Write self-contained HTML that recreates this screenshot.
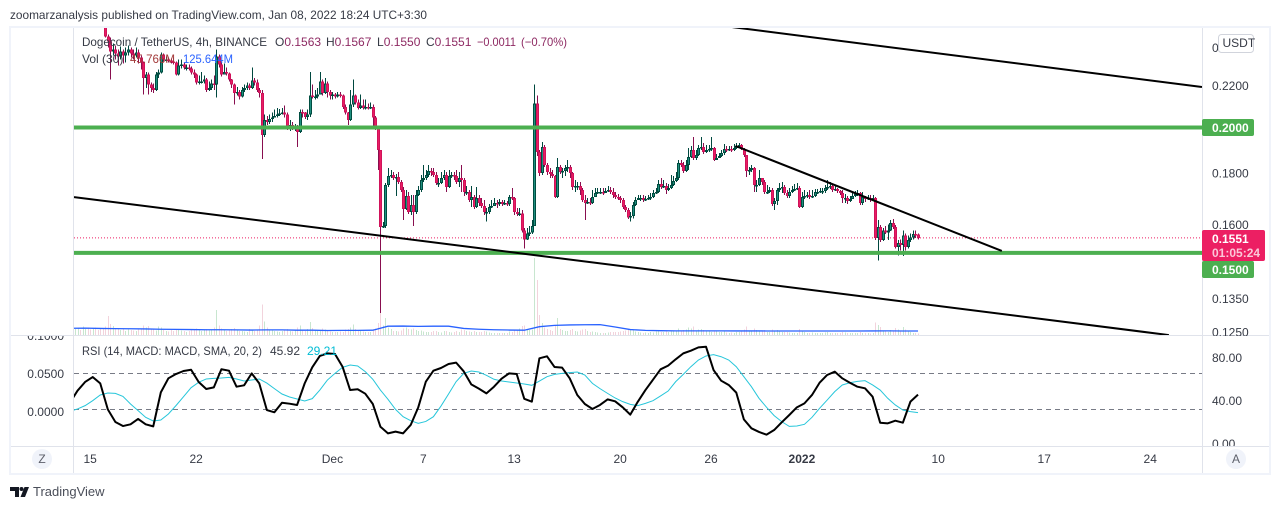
<!DOCTYPE html>
<html lang="en">
<head>
<meta charset="utf-8">
<title>DOGE/USDT chart</title>
<style>
html,body{margin:0;padding:0;background:#fff;width:1280px;height:509px;overflow:hidden}
svg{display:block}
text{font-family:"Liberation Sans",Arial,sans-serif;font-size:12px;fill:#363a45}
</style>
</head>
<body>
<svg id="chart" xmlns="http://www.w3.org/2000/svg" width="1280" height="509" viewBox="0 0 1280 509">
  <defs>
    <clipPath id="main-clip"><rect x="74" y="28" width="1128" height="307"/></clipPath>
    <clipPath id="rsi-clip"><rect x="74" y="336" width="1128" height="110"/></clipPath>
    <clipPath id="right-main-clip"><rect x="1203" y="28" width="66" height="308"/></clipPath>
    <clipPath id="right-rsi-clip"><rect x="1203" y="336" width="66" height="110"/></clipPath>
    <clipPath id="left-clip"><rect x="11" y="336" width="62" height="110"/></clipPath>
  </defs>
  <text x="10" y="19" textLength="417" lengthAdjust="spacingAndGlyphs">zoomarzanalysis published on TradingView.com, Jan 08, 2022 18:24 UTC+3:30</text>
  <rect x="10" y="27" width="1260" height="447" fill="#fff" stroke="#f0f3fa" stroke-width="2"/>
  <line x1="73.5" y1="28" x2="73.5" y2="473" stroke="#e0e3eb"/>
  <line x1="1202.5" y1="28" x2="1202.5" y2="473" stroke="#e0e3eb"/>
  <line x1="11" y1="335.5" x2="1269" y2="335.5" stroke="#e0e3eb"/>
  <line x1="11" y1="446.5" x2="1269" y2="446.5" stroke="#e0e3eb"/>

  <g id="volume-layer" clip-path="url(#main-clip)"></g>
  <g id="vol-ma-layer" clip-path="url(#main-clip)"></g>
  <g id="price-line-layer" clip-path="url(#main-clip)"></g>
  <g id="candle-layer" clip-path="url(#main-clip)"></g>
  <g id="drawing-layer" clip-path="url(#main-clip)"></g>
  <g id="rsi-layer" clip-path="url(#rsi-clip)"></g>
  <g id="right-main-ticks" clip-path="url(#right-main-clip)"></g>
  <g id="right-rsi-ticks" clip-path="url(#right-rsi-clip)"></g>
  <g id="left-ticks" clip-path="url(#left-clip)"></g>
  <g id="time-ticks"></g>

  <g>
    <text x="82" y="46" textLength="185" lengthAdjust="spacingAndGlyphs">Dogecoin / TetherUS, 4h, BINANCE</text>
    <text x="275" y="46">O<tspan style="fill:#8e2a63">0.1563</tspan></text>
    <text x="326" y="46">H<tspan style="fill:#8e2a63">0.1567</tspan></text>
    <text x="377" y="46">L<tspan style="fill:#8e2a63">0.1550</tspan></text>
    <text x="426" y="46">C<tspan style="fill:#8e2a63">0.1551</tspan></text>
    <text x="477" y="46" textLength="39" lengthAdjust="spacingAndGlyphs" style="fill:#8e2a63">−0.0011</text>
    <text x="521" y="46" textLength="46" lengthAdjust="spacingAndGlyphs" style="fill:#8e2a63">(−0.70%)</text>
    <text x="82" y="63">Vol (30)</text>
    <text x="130" y="63" textLength="45" lengthAdjust="spacingAndGlyphs" style="fill:#a33a3a">45.766M</text>
    <text x="183" y="63" textLength="50" lengthAdjust="spacingAndGlyphs" style="fill:#2962ff">125.644M</text>
    <text x="82" y="355" textLength="180" lengthAdjust="spacingAndGlyphs">RSI (14, MACD: MACD, SMA, 20, 2)</text>
    <text x="270" y="355">45.92</text>
    <text x="307" y="355" style="fill:#00bcd4">29.21</text>
  </g>

  <g id="badges">
    <rect x="1202" y="119" width="52" height="17" rx="2" fill="#4caf50"/>
    <text x="1212" y="132" font-weight="bold" style="fill:#fff">0.2000</text>
    <rect x="1202" y="261" width="52" height="17" rx="2" fill="#4caf50"/>
    <text x="1212" y="274" font-weight="bold" style="fill:#fff">0.1500</text>
    <rect x="1202" y="230" width="63" height="31" rx="2" fill="#ec1f63"/>
    <text x="1212" y="243" font-weight="bold" style="fill:#fff">0.1551</text>
    <text x="1212" y="257" font-weight="bold" style="fill:#fbc7d8">01:05:24</text>
    <rect x="1218.5" y="34.5" width="35" height="18" rx="3" fill="#fff" stroke="#d1d4dc"/>
    <text x="1222.5" y="47">USDT</text>
  </g>

  <circle cx="42" cy="459" r="10" fill="#f0f3fa"/>
  <text x="42" y="463" text-anchor="middle" style="fill:#5d606b">Z</text>
  <circle cx="1236" cy="459" r="10" fill="#f0f3fa"/>
  <text x="1236" y="463" text-anchor="middle" style="fill:#5d606b">A</text>

  <g>
    <path d="M10 487h9v10h-4v-6h-5z" fill="#131722"/>
    <circle cx="21.5" cy="489" r="2" fill="#131722"/>
    <path d="M24.5 487H29l-4 10h-4.500z" fill="#131722"/>
    <text x="33" y="496" style="font-size:13px;fill:#4a4e59">TradingView</text>
  </g>
</svg>
<script>
// ---- Data (prices in units of 0.0001) ----
const PRICE_UNIT = 0.0001;
const closes = [
2680,2700,2660,2690,2720,2700,2670,2680,2650,2640,2620,2580,
2462,2433,2378,2389,2367,2351,2378,2356,2373,2389,2367,2356,2373,2345,2318,2239,2255,2204,
2188,2178,2255,2265,2362,2334,2334,2329,2324,2318,2255,2302,2308,2292,2292,2286,2265,2255,2214,2219,
2219,2229,2178,2188,2209,2204,2351,2308,2255,2270,2260,2229,2204,2163,2168,2144,2178,2188,2199,2188,
2224,2214,2178,2163,1964,2033,2023,2038,2043,2052,2057,2062,2067,2057,1995,2009,1995,2000,1977,2071,
2067,2047,2057,2149,2144,2144,2154,2219,2163,2209,2168,2149,2154,2144,2154,2149,2095,2067,2033,2105,
2149,2115,2090,2100,2090,2095,2090,2095,2043,1995,1897,1590,1593,1750,1787,1791,1779,1783,1763,1731,
1657,1707,1645,1672,1645,1711,1731,1771,1779,1791,1808,1804,1791,1758,1758,1779,1791,1742,1787,1791,
1787,1763,1779,1771,1723,1723,1691,1703,1664,1699,1680,1668,1645,1645,1664,1668,1680,1676,1684,1676,
1680,1676,1703,1699,1645,1638,1641,1578,1546,1567,1571,1593,2110,1888,1800,1910,1833,1804,1795,1787,
1703,1825,1804,1808,1820,1825,1800,1742,1746,1746,1731,1691,1680,1684,1680,1703,1719,1723,1723,1719,
1727,1731,1723,1711,1703,1699,1691,1664,1653,1626,1630,1672,1691,1699,1699,1691,1695,1699,1703,1719,
1723,1754,1742,1746,1731,1739,1750,1767,1779,1841,1833,1808,1833,1866,1897,1862,1875,1906,1910,1888,
1897,1901,1906,1854,1862,1871,1884,1901,1897,1901,1897,1906,1915,1919,1901,1875,1808,1812,1820,1750,
1750,1779,1763,1723,1723,1731,1676,1688,1731,1739,1742,1719,1707,1723,1731,1735,1739,1664,1703,1707,
1711,1703,1707,1723,1723,1727,1727,1739,1742,1746,1731,1735,1727,1719,1699,1699,1688,1695,1707,1715,
1719,1680,1703,1695,1699,1695,1699,1550,1590,1543,1578,1571,1578,1604,1590,1518,1532,1525,1560,1518,
1543,1553,1564,1563,1551];
const highs = [
2710,2730,2690,2720,2750,2730,2700,2710,2680,2670,2650,2610,
2560,2473,2456,2422,2411,2389,2405,2389,2400,2411,2400,2389,2400,2389,2356,2324,2270,2265,
2214,2209,2270,2281,2373,2367,2351,2345,2340,2345,2324,2334,2334,2318,2308,2308,2297,2281,2260,2250,
2270,2250,2239,2219,2229,2250,2389,2362,2324,2313,2292,2265,2234,2209,2193,2178,2193,2204,2214,2209,
2292,2239,2229,2188,2178,2057,2052,2057,2067,2081,2090,2085,2090,2100,2067,2033,2023,2014,2009,2081,
2081,2071,2081,2270,2204,2178,2188,2270,2229,2239,2219,2178,2168,2163,2168,2168,2154,2105,2071,2178,
2229,2154,2129,2154,2129,2129,2110,2115,2105,2052,2000,1897,1608,1758,1820,1812,1804,1795,1804,1771,
1742,1731,1723,1711,1711,1731,1746,1791,1833,1812,1833,1820,1820,1804,1779,1804,1812,1804,1812,1804,
1804,1812,1804,1833,1779,1746,1731,1746,1711,1742,1711,1699,1691,1661,1676,1691,1699,1691,1695,1691,
1691,1688,1711,1739,1703,1661,1661,1653,1586,1586,1593,1615,2204,2149,1897,1932,1919,1841,1820,1812,
1791,1862,1833,1820,1833,1854,1833,1804,1771,1763,1763,1739,1711,1699,1699,1731,1739,1739,1739,1739,
1739,1746,1742,1739,1723,1715,1707,1699,1672,1661,1645,1684,1703,1711,1711,1711,1707,1711,1719,1731,
1739,1771,1779,1771,1758,1754,1791,1787,1804,1854,1854,1845,1854,1906,1915,1955,1897,1919,1955,1928,
1919,1919,1955,1910,1879,1884,1897,1923,1915,1915,1915,1923,1928,1928,1923,1906,1875,1825,1833,1825,
1771,1812,1779,1771,1750,1742,1739,1699,1739,1758,1763,1750,1731,1739,1746,1754,1758,1746,1723,1731,
1723,1731,1731,1735,1735,1739,1739,1750,1771,1763,1754,1746,1739,1731,1731,1715,1707,1707,1723,1727,
1731,1723,1723,1707,1711,1711,1711,1703,1615,1597,1586,1593,1600,1615,1619,1597,1543,1546,1578,1567,
1560,1567,1578,1578,1567];
const lows = [
2650,2670,2630,2660,2690,2670,2640,2650,2620,2610,2590,2560,
2456,2400,2229,2356,2334,2302,2334,2313,2318,2356,2345,2334,2345,2313,2281,2154,2188,2154,
2168,2163,2173,2239,2260,2324,2324,2318,2313,2308,2250,2250,2286,2281,2276,2276,2255,2239,2204,2204,
2209,2209,2168,2173,2178,2178,2139,2292,2245,2260,2250,2219,2188,2105,2149,2129,2139,2168,2178,2178,
2183,2199,2168,2139,1858,1955,2009,2014,2023,2043,2043,2052,2057,2043,1986,1982,1986,1982,1910,1973,
2043,2038,2033,2047,2134,2129,2134,2154,2149,2158,2139,2129,2129,2134,2139,2139,2085,2057,2009,2028,
2095,2105,2081,2085,2081,2081,2081,2085,1995,1986,1812,1306,1586,1586,1742,1779,1771,1707,1754,1723,
1615,1653,1638,1634,1593,1638,1707,1723,1763,1771,1783,1787,1783,1750,1742,1754,1771,1723,1739,1779,
1771,1754,1742,1723,1707,1711,1684,1664,1657,1661,1668,1661,1634,1611,1638,1661,1668,1661,1668,1668,
1672,1668,1668,1691,1634,1630,1630,1571,1514,1543,1557,1564,1593,1871,1787,1791,1825,1791,1779,1779,
1699,1699,1795,1779,1787,1804,1779,1731,1723,1731,1711,1684,1615,1676,1672,1676,1703,1715,1715,1711,
1719,1723,1715,1699,1695,1691,1680,1657,1645,1619,1611,1622,1668,1691,1688,1684,1688,1691,1691,1699,
1715,1719,1735,1739,1715,1727,1735,1746,1763,1771,1825,1800,1804,1812,1862,1854,1854,1871,1897,1879,
1884,1888,1893,1849,1854,1862,1866,1875,1888,1893,1888,1893,1901,1906,1897,1866,1783,1791,1804,1723,
1723,1746,1750,1715,1715,1719,1668,1653,1672,1723,1719,1711,1699,1699,1719,1727,1731,1661,1661,1695,
1699,1695,1699,1703,1715,1719,1715,1719,1731,1735,1723,1727,1719,1711,1680,1680,1676,1684,1695,1703,
1707,1672,1672,1684,1691,1684,1688,1543,1473,1536,1539,1564,1543,1575,1582,1514,1490,1507,1487,1507,
1514,1536,1546,1550,1546];
// Volume in millions
const volumes = [
180,210,150,260,190,230,170,200,240,160,180,220,260,600,340,280,210,180,150,190,130,170,160,140,
120,210,180,300,240,280,190,170,140,260,230,160,120,110,150,130,170,190,140,120,100,130,160,180,
200,150,120,170,190,140,160,240,780,300,210,160,130,150,180,220,170,130,120,110,100,180,160,130,
170,300,950,420,240,170,140,120,110,100,130,160,180,130,110,150,240,300,160,130,180,400,220,150,
120,140,210,170,140,110,90,100,90,110,100,170,190,230,330,180,130,120,110,90,100,90,180,210,
380,720,300,530,240,190,130,120,110,140,210,230,190,170,210,160,120,140,110,100,90,100,130,120,
90,80,130,120,90,80,100,120,90,170,150,130,110,90,120,100,90,100,130,110,80,70,60,70,
60,70,60,60,110,100,160,140,200,280,290,170,150,170,2400,1720,620,380,240,180,150,130,300,530,
180,150,130,120,160,190,130,110,140,170,180,120,100,110,90,80,70,70,70,80,90,100,90,90,
110,130,140,170,160,150,110,90,80,70,80,70,90,80,110,120,100,90,110,90,130,120,110,200,
130,150,170,240,200,260,140,170,190,150,130,110,100,140,110,90,100,120,80,70,80,70,90,100,
130,170,260,140,110,200,150,130,110,160,100,90,170,130,150,110,90,100,90,80,70,70,70,180,
130,90,70,70,80,60,60,60,70,80,90,70,60,60,60,70,90,80,70,60,60,60,60,100,
70,60,60,50,60,385,320,250,130,110,100,150,120,220,170,140,250,170,110,90,70,60,46];
// Volume MA in millions; one sample every 6 bars, starting two bars before the first bar
const volumeMa = [210,215,205,200,195,190,180,175,170,165,165,160,155,160,160,150,150,140,145,145,150,275,280,270,275,275,205,180,165,155,150,260,300,315,320,325,250,170,145,135,130,130,128,128,127,127,126,126,126,125,125,126,126,127,128,126,125.644];
// RSI and RSI-MA; one sample every 3 bars, starting two bars before the first bar
const rsiValues = [38.4,49.6,57.7,62.3,56.4,32.2,20.5,16.7,18.3,23.3,18.3,16.4,48,61.1,65.1,67.9,69.1,57.7,51.2,52.7,69.5,68.2,53.3,54.6,65.7,56.4,31.6,29.5,38.4,37.5,36.3,56.4,71.3,81.9,84.3,83.7,71.9,50.2,50.9,46.8,37.2,16.1,9.9,11.5,9.9,17.7,34.1,58,68.2,70.7,74.4,75.7,67.6,55.5,51.5,47.1,53.3,60.8,65.7,65.1,42,39.4,79.7,81.6,71.6,71,61.1,45.6,37.2,32.6,36.3,41.5,39.7,34.1,27.3,39.4,50.2,59.8,69.5,72.9,78.8,84.3,86.8,89.9,90.5,68.8,58.9,54.9,47.8,22.9,14.6,11.2,8.7,13,20.2,27,34.1,37.8,45.6,57,64.2,67.3,61.1,57,53.3,51.8,44,19.8,19.2,21.7,19.8,39.4,45.92];
const rsiMaValues = [30.4,32.6,35.7,40.3,45.6,47.4,47.1,44.3,37.2,31,24.8,21.4,22.3,27.9,35.7,44,52.4,57.4,60.5,61.1,61.4,62,60.5,58.6,59.5,60.5,56.7,51.5,46.5,43.7,41.9,40,42.2,50.2,59.5,65.7,71.3,73.5,72.6,67.3,60.2,50.2,41.6,32.2,25.4,21.7,19.2,21,25.4,35.3,46.5,58,65.7,67.9,67,63.9,60.2,58.6,57.7,56.7,55.8,54.6,58.6,62.6,64.8,65.7,66.4,67,64.2,56.4,51.5,47.1,42.8,39.4,36.9,35.7,37.8,40.3,44.7,49.3,58,64.8,71.9,78.1,81.9,83.1,81.2,78.1,71.9,62.6,53.3,42.5,34.1,26.4,20.8,16.4,16.7,18.3,24.8,33.2,40.9,48.7,54.9,57,58.3,58.9,54.9,50.2,42.5,36.3,31.6,30.1,29.21];
const rsiBands = [66, 32.6];
const lastPrice = 0.1551;
const supportLevels = [0.2, 0.15];
// Trend lines as [barIndex, price, barIndex, price]
const trendUpper = [260.5, 0.2515, 446.5, 0.2192];
const trendLower = [-0.4, 0.1703, 433.4, 0.1241];
const trendWedge = [261.7, 0.1915, 367.2, 0.1505];
const priceTicks = [0.24, 0.22, 0.18, 0.16, 0.135, 0.125];
const rsiTicks = [80, 40, 0];
const macdTicks = [0.1, 0.05, 0];
const timeTickBars = [6, 48, 102, 138, 174, 216, 252, 288, 342, 384, 426];
const timeTickLabels = ['15', '22', 'Dec', '7', '13', '20', '26', '2022', '10', '17', '24'];
const boldTimeTick = '2022';

// ---- Axis functions ----
const NS = 'http://www.w3.org/2000/svg';
const xOfBar = function (i) { return 75 + 2.524 * i; };
const yOfPrice = function (p) { return 127 - 436 * Math.log(p / 0.2); };
const yOfVolume = function (v) { return 335 - v * 0.032; };
const yOfRsi = function (v) { return 444 - 1.075 * v; };
const yOfMacd = function (v) { return 412 - 760 * v; };

const volumeLayer = document.getElementById('volume-layer');
const candleLayer = document.getElementById('candle-layer');
const COL = { upFill: '#1f8f80', upEdge: '#004d40', upWick: '#00483f', downFill: '#e91e63', downEdge: '#d0125a', downWick: '#880e4f' };

closes.forEach(function (rawClose, i) {
  const close = rawClose * PRICE_UNIT;
  const open = (i === 0 ? rawClose : closes[i - 1]) * PRICE_UNIT;
  const high = Math.max(highs[i] * PRICE_UNIT, open, close);
  const low = Math.min(lows[i] * PRICE_UNIT, open, close);
  const up = close >= open;
  const cx = Math.round(xOfBar(i));

  const vol = document.createElementNS(NS, 'rect');
  
  
  vol.setAttribute('x', cx);
  vol.setAttribute('width', 1);
  vol.setAttribute('y', yOfVolume(volumes[i]));
  vol.setAttribute('height', 335 - yOfVolume(volumes[i]));
  vol.setAttribute('fill', up ? '#c8e6cf' : '#f2d3dc');
  vol.setAttribute('shape-rendering', 'crispEdges');
  volumeLayer.appendChild(vol);

  const g = document.createElementNS(NS, 'g');
  
  
  g.setAttribute('shape-rendering', 'crispEdges');

  const wick = document.createElementNS(NS, 'rect');
  
  
  wick.setAttribute('x', cx);
  wick.setAttribute('width', 1);
  wick.setAttribute('y', yOfPrice(high));
  wick.setAttribute('height', Math.max(1, yOfPrice(low) - yOfPrice(high)));
  wick.setAttribute('fill', up ? COL.upWick : COL.downWick);
  g.appendChild(wick);

  const top = yOfPrice(Math.max(open, close));
  const h = Math.max(1.5, yOfPrice(Math.min(open, close)) - top);
  const body = document.createElementNS(NS, 'rect');
  
  
  body.setAttribute('x', cx - 1);
  body.setAttribute('width', 3);
  body.setAttribute('y', top);
  body.setAttribute('height', h);
  body.setAttribute('fill', up ? COL.upEdge : COL.downEdge);
  g.appendChild(body);

  const core = document.createElementNS(NS, 'rect');
  
  
  core.setAttribute('x', cx);
  core.setAttribute('width', 1);
  core.setAttribute('y', top + 1);
  core.setAttribute('height', Math.max(0, h - 2));
  core.setAttribute('fill', up ? COL.upFill : COL.downFill);
  g.appendChild(core);

  candleLayer.appendChild(g);
});

const volMaLine = document.createElementNS(NS, 'polyline');


volMaLine.setAttribute('points', volumeMa.map(function (v, j) { return xOfBar(6 * j - 2) + ',' + yOfVolume(v); }).join(' '));
volMaLine.setAttribute('fill', 'none');
volMaLine.setAttribute('stroke', '#2962ff');
volMaLine.setAttribute('stroke-width', '1.3');
document.getElementById('vol-ma-layer').appendChild(volMaLine);

const priceLine = document.createElementNS(NS, 'line');


priceLine.setAttribute('x1', 74);
priceLine.setAttribute('x2', 1202);
priceLine.setAttribute('y1', yOfPrice(lastPrice));
priceLine.setAttribute('y2', yOfPrice(lastPrice));
priceLine.setAttribute('stroke', '#ec1f63');
priceLine.setAttribute('stroke-dasharray', '1 2');
document.getElementById('price-line-layer').appendChild(priceLine);

const drawingLayer = document.getElementById('drawing-layer');
supportLevels.forEach(function (lvl) {
  const hl = document.createElementNS(NS, 'line');
  
  
  hl.setAttribute('x1', 74);
  hl.setAttribute('x2', 1202);
  hl.setAttribute('y1', yOfPrice(lvl) + 0.5);
  hl.setAttribute('y2', yOfPrice(lvl) + 0.5);
  hl.setAttribute('stroke', '#4caf50');
  hl.setAttribute('stroke-width', 4);
  drawingLayer.appendChild(hl);
});
[trendUpper, trendLower, trendWedge].forEach(function (t) {
  const tl = document.createElementNS(NS, 'line');
  
  
  tl.setAttribute('x1', xOfBar(t[0]));
  tl.setAttribute('y1', yOfPrice(t[1]));
  tl.setAttribute('x2', xOfBar(t[2]));
  tl.setAttribute('y2', yOfPrice(t[3]));
  tl.setAttribute('stroke', '#000');
  tl.setAttribute('stroke-width', 2);
  drawingLayer.appendChild(tl);
});

const rsiLayer = document.getElementById('rsi-layer');
rsiBands.forEach(function (b) {
  const band = document.createElementNS(NS, 'line');
  
  
  band.setAttribute('x1', 74);
  band.setAttribute('x2', 1202);
  band.setAttribute('y1', Math.round(yOfRsi(b)) + 0.5);
  band.setAttribute('y2', Math.round(yOfRsi(b)) + 0.5);
  band.setAttribute('stroke', '#787b86');
  band.setAttribute('stroke-dasharray', '5 4');
  rsiLayer.appendChild(band);
});
const rsiMaLine = document.createElementNS(NS, 'polyline');


rsiMaLine.setAttribute('points', rsiMaValues.map(function (v, j) { return xOfBar(3 * j - 2) + ',' + yOfRsi(v); }).join(' '));
rsiMaLine.setAttribute('fill', 'none');
rsiMaLine.setAttribute('stroke', '#26c6da');
rsiMaLine.setAttribute('stroke-width', 1);
rsiLayer.appendChild(rsiMaLine);
const rsiLine = document.createElementNS(NS, 'polyline');


rsiLine.setAttribute('points', rsiValues.map(function (v, j) { return xOfBar(3 * j - 2) + ',' + yOfRsi(v); }).join(' '));
rsiLine.setAttribute('fill', 'none');
rsiLine.setAttribute('stroke', '#000');
rsiLine.setAttribute('stroke-width', 2);
rsiLine.setAttribute('stroke-linejoin', 'round');
rsiLayer.appendChild(rsiLine);

priceTicks.forEach(function (p) {
  const t = document.createElementNS(NS, 'text');
  
  
  t.setAttribute('x', 1212);
  t.setAttribute('y', yOfPrice(p) + 4.5);
  t.textContent = p.toFixed(4);
  document.getElementById('right-main-ticks').appendChild(t);
});
rsiTicks.forEach(function (v) {
  const t = document.createElementNS(NS, 'text');
  
  
  t.setAttribute('x', 1212);
  t.setAttribute('y', yOfRsi(v) + 4);
  t.textContent = v.toFixed(2);
  document.getElementById('right-rsi-ticks').appendChild(t);
});
macdTicks.forEach(function (v) {
  const t = document.createElementNS(NS, 'text');
  
  
  t.setAttribute('x', 64);
  t.setAttribute('y', yOfMacd(v) + 4);
  t.setAttribute('text-anchor', 'end');
  t.textContent = v.toFixed(4);
  document.getElementById('left-ticks').appendChild(t);
});
timeTickBars.forEach(function (bar, k) {
  const t = document.createElementNS(NS, 'text');
  
  
  t.setAttribute('x', xOfBar(bar));
  t.setAttribute('y', 463);
  t.setAttribute('text-anchor', 'middle');
  if (timeTickLabels[k] === boldTimeTick) { t.setAttribute('font-weight', 'bold'); }
  t.textContent = timeTickLabels[k];
  document.getElementById('time-ticks').appendChild(t);
});
</script>
</body>
</html>
